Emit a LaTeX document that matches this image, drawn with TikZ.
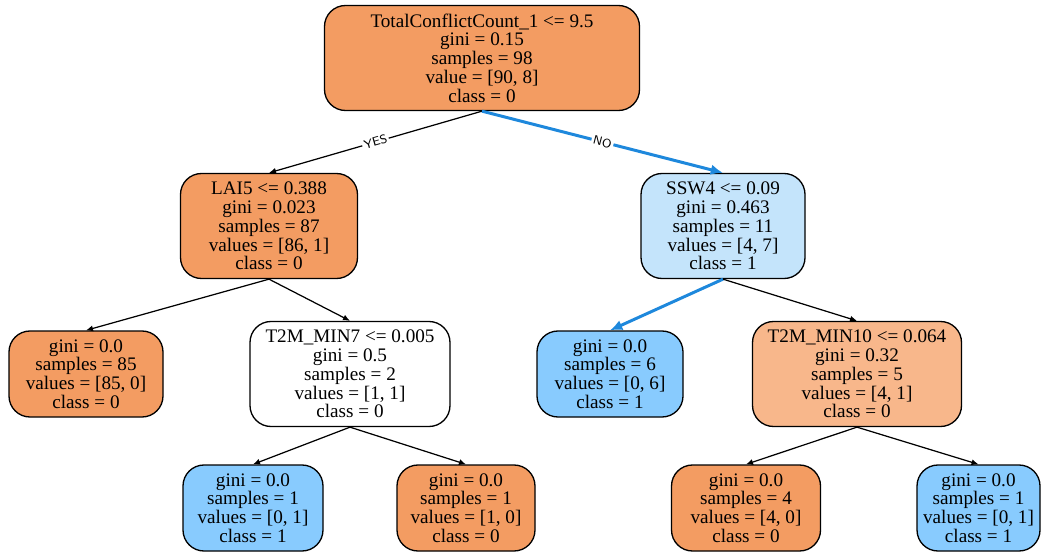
\documentclass[tikz,border=0pt]{standalone}
\usepackage{fontspec}
\setmainfont{Liberation Serif}
\usetikzlibrary{arrows.meta}
\definecolor{orangeFull}{HTML}{F39C62}
\definecolor{orangeLight}{HTML}{F8B78B}
\definecolor{blueFull}{HTML}{88CBFE}
\definecolor{blueLight}{HTML}{C4E4FB}
\definecolor{pathBlue}{HTML}{1E88DC}
\begin{document}
\begin{tikzpicture}[
    treenode/.style={draw, line width=0.75pt, rounded corners=0.42cm, align=center, inner sep=2pt, font=\fontsize{10.9}{10.7}\selectfont},
    split/.style={treenode, minimum height=2.1cm},
    leaf/.style={treenode, minimum height=1.72cm},
    edge/.style={-{Latex[length=4pt,width=3.5pt]}, line width=0.7pt},
    pathedge/.style={-{Latex[length=7pt,width=6pt]}, line width=1.7pt, pathBlue},
    answer/.style={midway, sloped, fill=white, inner sep=1pt, font=\sffamily\scriptsize}
]
    \useasboundingbox (0,0) rectangle (20.94,11.08);

    % Root
    \node[split, fill=orangeFull, minimum width=6.3cm] (root) at (9.64,9.92)
        {TotalConflictCount\_1 <= 9.5\\ gini = 0.15\\ samples = 98\\ value = [90, 8]\\ class = 0};

    % Level 1
    \node[split, fill=orangeFull, minimum width=3.54cm] (lai) at (5.38,6.56)
        {LAI5 <= 0.388\\ gini = 0.023\\ samples = 87\\ values = [86, 1]\\ class = 0};
    \node[split, fill=blueLight, minimum width=3.28cm] (ssw) at (14.46,6.56)
        {SSW4 <= 0.09\\ gini = 0.463\\ samples = 11\\ values = [4, 7]\\ class = 1};

    % Level 2
    \node[leaf, fill=orangeFull, minimum width=3.08cm] (leafA) at (1.72,3.6)
        {gini = 0.0\\ samples = 85\\ values = [85, 0]\\ class = 0};
    \node[split, fill=white, minimum width=4.0cm] (minSeven) at (7.0,3.6)
        {T2M\_MIN7 <= 0.005\\ gini = 0.5\\ samples = 2\\ values = [1, 1]\\ class = 0};
    \node[leaf, fill=blueFull, minimum width=2.92cm] (leafB) at (12.2,3.6)
        {gini = 0.0\\ samples = 6\\ values = [0, 6]\\ class = 1};
    \node[split, fill=orangeLight, minimum width=4.18cm] (minTen) at (17.14,3.6)
        {T2M\_MIN10 <= 0.064\\ gini = 0.32\\ samples = 5\\ values = [4, 1]\\ class = 0};

    % Level 3
    \node[leaf, fill=blueFull, minimum width=2.8cm] (leafC) at (5.06,0.92)
        {gini = 0.0\\ samples = 1\\ values = [0, 1]\\ class = 1};
    \node[leaf, fill=orangeFull, minimum width=2.76cm] (leafD) at (9.32,0.92)
        {gini = 0.0\\ samples = 1\\ values = [1, 0]\\ class = 0};
    \node[leaf, fill=orangeFull, minimum width=2.98cm] (leafE) at (14.92,0.92)
        {gini = 0.0\\ samples = 4\\ values = [4, 0]\\ class = 0};
    \node[leaf, fill=blueFull, minimum width=2.46cm] (leafF) at (19.57,0.92)
        {gini = 0.0\\ samples = 1\\ values = [0, 1]\\ class = 1};

    % Edges
    \draw[edge] (root.south) -- node[answer] {YES} (lai.north);
    \draw[pathedge] (root.south) -- node[answer, text=black] {NO} (ssw.north);
    \draw[edge] (lai.south) -- (leafA.north);
    \draw[edge] (lai.south) -- (minSeven.north);
    \draw[pathedge] (ssw.south) -- (leafB.north);
    \draw[edge] (ssw.south) -- (minTen.north);
    \draw[edge] (minSeven.south) -- (leafC.north);
    \draw[edge] (minSeven.south) -- (leafD.north);
    \draw[edge] (minTen.south) -- (leafE.north);
    \draw[edge] (minTen.south) -- (leafF.north);
\end{tikzpicture}
\end{document}
